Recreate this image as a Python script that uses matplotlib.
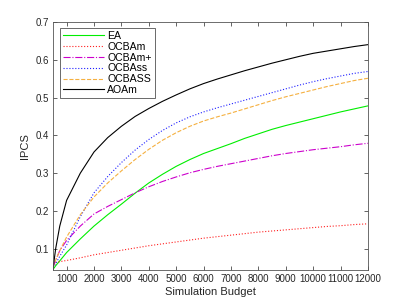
import matplotlib
matplotlib.use("Agg")
import matplotlib.pyplot as plt

# Budget (x) values
budget = [500, 600, 750, 1000, 1500, 2000, 2500, 3000, 3500, 4000, 4500, 5000, 5500,
          6000, 6500, 7000, 7500, 8000, 8500, 9000, 9500, 10000, 10500, 11000, 11500, 12000]

ea = [0.045, 0.055, 0.068, 0.090, 0.126, 0.160, 0.190, 0.218, 0.247, 0.274, 0.297, 0.318, 0.336,
      0.352, 0.365, 0.378, 0.392, 0.404, 0.416, 0.426, 0.435, 0.444, 0.453, 0.462, 0.470, 0.478]
ocbam = [0.060, 0.063, 0.066, 0.069, 0.076, 0.084, 0.090, 0.096, 0.102, 0.108, 0.113, 0.118, 0.123,
         0.128, 0.132, 0.136, 0.140, 0.144, 0.147, 0.150, 0.153, 0.156, 0.159, 0.161, 0.164, 0.166]
ocbam_plus = [0.050, 0.070, 0.095, 0.122, 0.160, 0.192, 0.212, 0.230, 0.248, 0.264, 0.278, 0.290, 0.301,
              0.310, 0.318, 0.325, 0.332, 0.339, 0.346, 0.352, 0.357, 0.362, 0.366, 0.370, 0.375, 0.379]
ocbass = [0.050, 0.060, 0.080, 0.110, 0.185, 0.248, 0.291, 0.328, 0.361, 0.389, 0.413, 0.433, 0.449,
          0.462, 0.473, 0.483, 0.493, 0.503, 0.513, 0.523, 0.533, 0.542, 0.550, 0.557, 0.564, 0.569]
ocbass_up = [0.050, 0.070, 0.095, 0.131, 0.190, 0.237, 0.274, 0.306, 0.336, 0.363, 0.387, 0.407, 0.424,
             0.438, 0.449, 0.459, 0.470, 0.481, 0.492, 0.502, 0.511, 0.520, 0.529, 0.537, 0.545, 0.551]
aoam = [0.045, 0.100, 0.160, 0.228, 0.300, 0.356, 0.394, 0.424, 0.450, 0.471, 0.490, 0.507, 0.523,
        0.537, 0.549, 0.560, 0.571, 0.581, 0.591, 0.600, 0.609, 0.617, 0.623, 0.629, 0.635, 0.640]

xticks = list(range(1000, 13000, 1000))
yticks = [0.1, 0.2, 0.3, 0.4, 0.5, 0.6, 0.7]

plt.rcParams['font.family'] = ['Liberation Sans', 'DejaVu Sans']

fig = plt.figure(figsize=(4.07, 3.05), dpi=100)
ax = fig.add_axes([0.130, 0.115, 0.774, 0.813])

lw = 0.8
ax.plot(budget, ea, '-', color='#00ee00', lw=lw, label='EA')
ax.plot(budget, ocbam, ':', color='#ff2020', lw=lw, label='OCBAm')
ax.plot(budget, ocbam_plus, '-.', color='#cc00cc', lw=lw, label='OCBAm+')
ax.plot(budget, ocbass, ':', color='#2020ff', lw=lw, label='OCBAss')
ax.plot(budget, ocbass_up, '--', color='#f5b040', lw=lw, label='OCBASS')
ax.plot(budget, aoam, '-', color='#000000', lw=lw, label='AOAm')

ax.set_xlim(500, 12000)
ax.set_ylim(0.044, 0.7)
ax.set_xticks(xticks)
ax.set_xticklabels([str(t) for t in xticks])
ax.set_yticks(yticks)
ax.set_yticklabels([str(t) for t in yticks])

ax.tick_params(direction='in', length=3, width=0.5, labelsize=7, colors='#262626',
               top=True, right=True, pad=3)
for s in ax.spines.values():
    s.set_linewidth(0.6)
    s.set_color('#555555')

ax.set_xlabel('Simulation Budget', fontsize=8, color='#262626', labelpad=2)
ax.set_ylabel('IPCS', fontsize=8, color='#262626', labelpad=4)

leg = ax.legend(loc='upper left', fontsize=7.6, handlelength=3.9, handletextpad=0.3,
                borderpad=0.3, labelspacing=0.08, fancybox=False,
                bbox_to_anchor=(0.015, 0.985), borderaxespad=0.2)
leg.get_frame().set_edgecolor('#262626')
leg.get_frame().set_linewidth(0.6)

plt.savefig('out.png', dpi=100)
